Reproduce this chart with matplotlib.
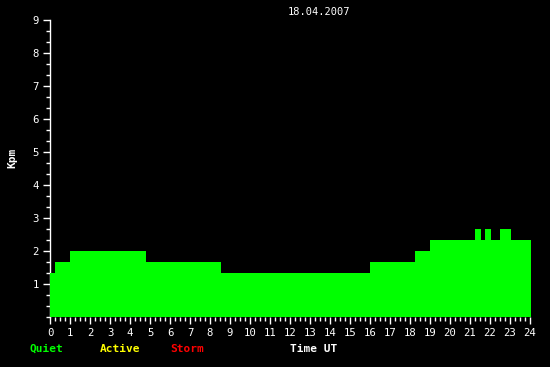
import numpy as np
import matplotlib.pyplot as plt
from matplotlib.ticker import MultipleLocator

# Kpm step levels (thirds) and the hour edges where they change
edges = [0, 0.25, 1.0, 4.8, 8.55, 16.0, 18.25, 19.0, 21.25, 21.55, 21.75, 22.05, 22.5, 23.05, 24.05]
kpm = [1.33, 1.67, 2.0, 1.67, 1.33, 1.67, 2.0, 2.33, 2.67, 2.33, 2.67, 2.33, 2.67, 2.33]
hour_ticks = list(range(0, 25))
kpm_ticks = list(range(1, 10))
date_label = "18.04.2007"

FONT = "DejaVu Sans Mono"

fig = plt.figure(figsize=(5.5, 3.67), dpi=100, facecolor="black")
ax = fig.add_axes([50 / 550, 50 / 367, 480 / 550, 297 / 367], facecolor="black")

ax.stairs(kpm, edges, fill=True, color="#00ff00", zorder=3, clip_on=False)

ax.set_xlim(0, 24)
ax.set_ylim(0, 9)
ax.set_xticks(hour_ticks)
ax.set_yticks(kpm_ticks)
ax.xaxis.set_minor_locator(MultipleLocator(0.25))
ax.yaxis.set_minor_locator(MultipleLocator(1 / 3))

for s in ["top", "right", "bottom"]:
    ax.spines[s].set_visible(False)
ax.spines["left"].set_color("white")
ax.spines["left"].set_linewidth(1)

ax.tick_params(axis="both", which="major", colors="white", length=5, width=1,
               labelsize=7.7, pad=3)
ax.tick_params(axis="both", which="minor", colors="white", length=3, width=1)
for lab in ax.get_xticklabels() + ax.get_yticklabels():
    lab.set_family(FONT)

ax.set_ylabel("Kpm", color="white", fontsize=8, fontweight="bold", family=FONT)
ax.yaxis.set_label_coords(-0.068, 0.535)

fig.text(319 / 550, 1 - 12 / 367, date_label, color="white", fontsize=7.5, family=FONT,
         ha="center", va="center")

# legend-like labels along the bottom
legend = [("Quiet", "#00ff00", 30), ("Active", "#ffff00", 100), ("Storm", "#ff0000", 170), ("Time UT", "white", 290)]
for txt, col, x in legend:
    fig.text(x / 550, 1 - 349 / 367, txt, color=col, fontsize=8, fontweight="bold",
             family=FONT, ha="left", va="center")

fig.savefig("out.png", dpi=100, facecolor="black")
